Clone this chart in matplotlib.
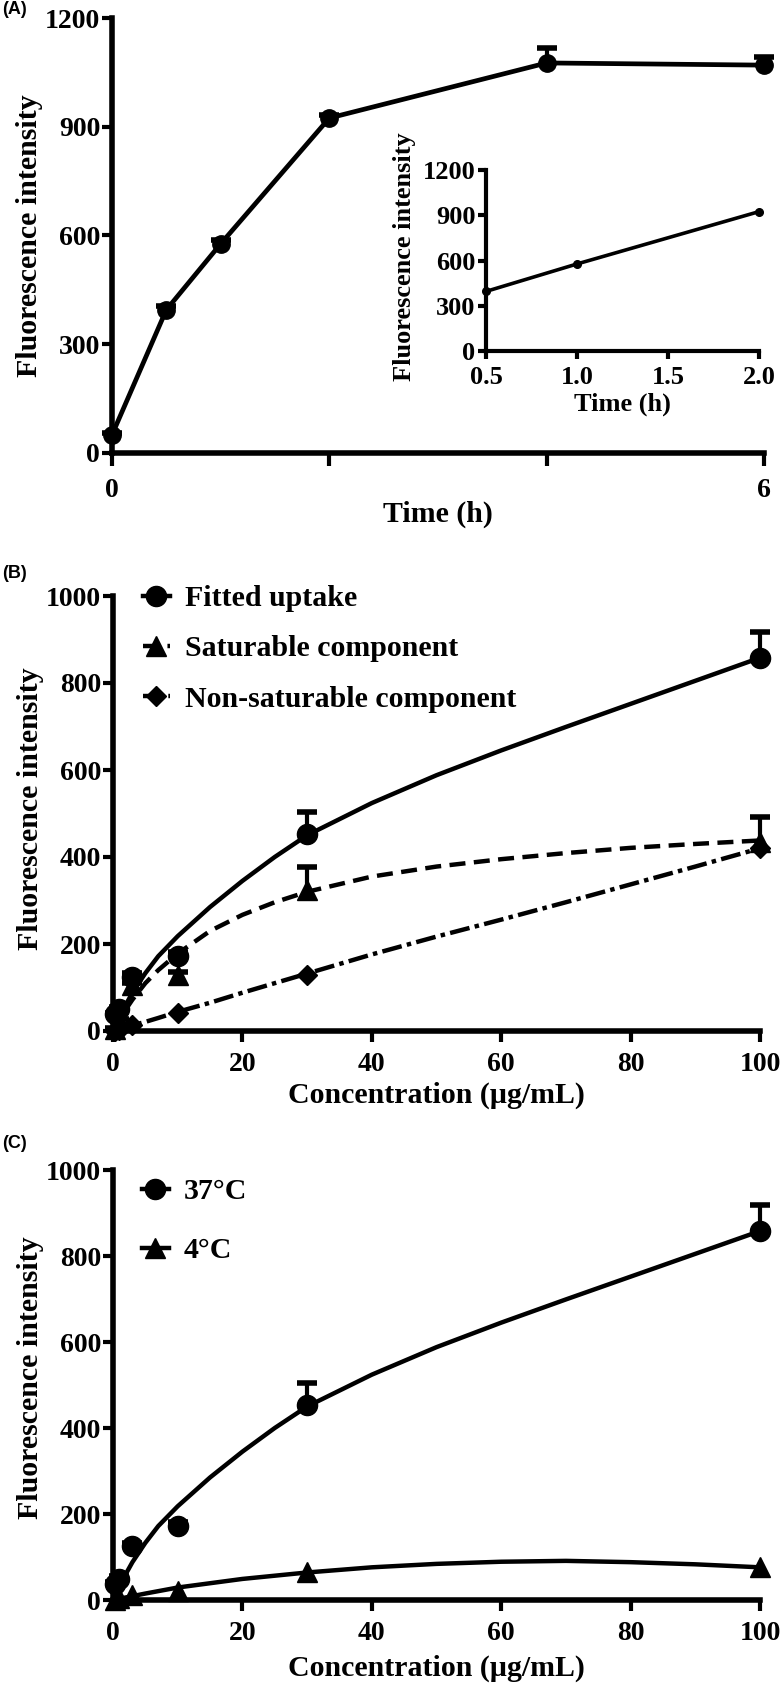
import numpy as np
import matplotlib.pyplot as plt
from matplotlib.lines import Line2D

plt.rcParams['font.family'] = ['Liberation Serif', 'DejaVu Serif']
plt.rcParams['font.weight'] = 'bold'

# (A) time course
time_h = [0, 0.5, 1, 2, 4, 6]
fi_time = [50, 395, 577, 924, 1076, 1070]
fi_time_err = [5, 10, 10, 8, 41, 23]

# (B)/(C) measured points
conc = [0.3, 1, 3, 10, 30, 100]
uptake = [38, 50, 125, 172, 454, 858]
uptake_err = [4, 5, 8, 10, 50, 60]
saturable = [4, 25, 105, 128, 325, 435]
saturable_err = [2, 3, 5, 8, 53, 58]
nonsaturable = [1, 3, 14, 42, 128, 420]
cold = [0, 4, 12, 20, 64, 76]

# fitted curves
fit_x = [0, 1, 2, 3, 5, 7, 10, 15, 20, 25, 30, 40, 50, 60, 70, 80, 90, 100]
uptake_fit = [0, 32, 61, 88, 133, 172, 218, 285, 345, 400, 450, 524, 588, 645, 699, 752, 805, 858]
saturable_fit = [0, 27, 50, 72, 110, 140, 178, 230, 267, 296, 320, 355, 378, 395, 409, 421, 430, 438]
nonsaturable_fit = [0, 4, 8, 13, 21, 30, 44, 65, 88, 110, 132, 176, 217, 256, 296, 337, 378, 420]
cold_fit_x = [0, 5, 10, 20, 30, 40, 50, 60, 70, 80, 90, 100]
cold_fit = [0, 15, 29, 49, 64, 76, 84, 89, 91, 88, 83, 76]

W, H = 781, 1684
fig = plt.figure(figsize=(W / 100, H / 100), dpi=100)


def box(l, t, r, b):
    return [l / W, 1 - b / H, (r - l) / W, (b - t) / H]


def style(ax, lw=4, tick_fs=20, xpad=7):
    for s in ['top', 'right']:
        ax.spines[s].set_visible(False)
    for s in ['left', 'bottom']:
        ax.spines[s].set_linewidth(lw)
        ax.spines[s].set_capstyle('projecting')
    ax.tick_params(axis='y', direction='out', length=7, width=3, pad=1.5, labelsize=tick_fs)
    ax.tick_params(axis='x', direction='out', length=8, width=3, pad=xpad, labelsize=tick_fs)
    for lab in ax.get_xticklabels() + ax.get_yticklabels():
        lab.set_fontweight('bold')


def up_err(ax, x, y, e, cap=14):
    # only the upper half of the error bar, like the original
    top = np.array(y) + np.array(e)
    ax.vlines(x, y, top, color='k', lw=3, zorder=3, clip_on=False)
    ax.plot(x, top, ls='none', marker='_', ms=cap, mew=4, color='k', zorder=3, clip_on=False)


dash = (0, (3.6, 1.9))
dashdot = (0, (4.5, 1.2, 1.0, 1.2))
LBL = 21.5

# ---------- (A)
axA = fig.add_axes(box(112, 18, 764, 453))
up_err(axA, time_h, fi_time, fi_time_err)
axA.plot(time_h, fi_time, '-o', color='k', lw=3.4, ms=12.5, zorder=4, clip_on=False)
axA.set_xlim(0, 6)
axA.set_ylim(0, 1200)
axA.set_xticks([0, 2, 4, 6])
axA.set_xticklabels(['0', '', '', '6'])
axA.set_yticks([0, 300, 600, 900, 1200])
style(axA, xpad=9)
axA.tick_params(axis='x', length=9)
axA.set_xlabel('Time (h)', fontsize=LBL, fontweight='bold', va='center')
axA.xaxis.set_label_coords(0.5, -0.142)
axA.set_ylabel('Fluorescence intensity', fontsize=LBL, fontweight='bold', va='center')
axA.yaxis.set_label_coords(-0.126, 0.5)

# inset
axI = fig.add_axes(box(486, 170, 759, 351))
axI.plot(time_h[1:4], fi_time[1:4], '-o', color='k', lw=2.6, ms=5.5, clip_on=False)
axI.set_xlim(0.5, 2.0)
axI.set_ylim(0, 1200)
axI.set_xticks([0.5, 1.0, 1.5, 2.0])
axI.set_xticklabels(['0.5', '1.0', '1.5', '2.0'])
axI.set_yticks([0, 300, 600, 900, 1200])
style(axI, lw=3, tick_fs=19, xpad=4.5)
axI.tick_params(axis='x', length=6)
axI.tick_params(axis='y', length=6)
axI.set_xlabel('Time (h)', fontsize=19, fontweight='bold', va='center')
axI.xaxis.set_label_coords(0.5, -0.295)
axI.set_ylabel('Fluorescence intensity', fontsize=19, fontweight='bold', va='center')
axI.yaxis.set_label_coords(-0.30, 0.52)

# ---------- (B)
axB = fig.add_axes(box(113, 596, 760, 1031))
axB.plot(fit_x, uptake_fit, '-', color='k', lw=3.2, zorder=2)
axB.plot(fit_x, saturable_fit, linestyle=dash, color='k', lw=3.2, zorder=2)
axB.plot(fit_x, nonsaturable_fit, linestyle=dashdot, color='k', lw=3.2, zorder=2)
up_err(axB, conc, uptake, uptake_err)
up_err(axB, conc, saturable, saturable_err)
axB.plot(conc, uptake, 'o', color='k', ms=14.5, ls='none', zorder=4, clip_on=False)
axB.plot(conc, saturable, '^', color='k', ms=15, ls='none', zorder=4, clip_on=False)
axB.plot(conc, nonsaturable, 'D', color='k', ms=10.5, ls='none', zorder=4, clip_on=False)
axB.set_xlim(0, 100)
axB.set_ylim(0, 1000)
axB.set_xticks([0, 20, 40, 60, 80, 100])
axB.set_yticks([0, 200, 400, 600, 800, 1000])
style(axB)
axB.set_xlabel('Concentration (\u00b5g/mL)', fontsize=LBL, fontweight='bold', va='center')
axB.xaxis.set_label_coords(0.5, -0.147)
axB.set_ylabel('Fluorescence intensity', fontsize=LBL, fontweight='bold', va='center')
axB.yaxis.set_label_coords(-0.128, 0.51)

hB = [Line2D([], [], color='k', marker='o', ms=14.5, lw=3.2, ls='-'),
      Line2D([], [], color='k', marker='^', ms=15, lw=3.2, ls=dash),
      Line2D([], [], color='k', marker='D', ms=10.5, lw=3.2, ls=dashdot)]
fig.legend(hB, ['Fitted uptake', 'Saturable component', 'Non-saturable component'],
           loc='upper left', bbox_to_anchor=(143 / W, 1 - 585 / H), frameon=False,
           prop={'size': LBL, 'weight': 'bold'}, handlelength=0.9, handletextpad=0.5,
           labelspacing=0.78, borderpad=0, borderaxespad=0)

# ---------- (C)
axC = fig.add_axes(box(113, 1170, 760, 1600))
axC.plot(fit_x, uptake_fit, '-', color='k', lw=3.2, zorder=2)
axC.plot(cold_fit_x, cold_fit, '-', color='k', lw=3.2, zorder=2)
up_err(axC, conc, uptake, uptake_err)
axC.plot(conc, uptake, 'o', color='k', ms=14.5, ls='none', zorder=4, clip_on=False)
axC.plot(conc, cold, '^', color='k', ms=15, ls='none', zorder=4, clip_on=False)
axC.set_xlim(0, 100)
axC.set_ylim(0, 1000)
axC.set_xticks([0, 20, 40, 60, 80, 100])
axC.set_yticks([0, 200, 400, 600, 800, 1000])
style(axC)
axC.set_xlabel('Concentration (\u00b5g/mL)', fontsize=LBL, fontweight='bold', va='center')
axC.xaxis.set_label_coords(0.5, -0.158)
axC.set_ylabel('Fluorescence intensity', fontsize=LBL, fontweight='bold', va='center')
axC.yaxis.set_label_coords(-0.128, 0.516)

hC = [Line2D([], [], color='k', marker='o', ms=14.5, lw=3.2, ls='-'),
      Line2D([], [], color='k', marker='^', ms=15, lw=3.2, ls='-')]
fig.legend(hC, ['37\u00b0C', '4\u00b0C'],
           loc='upper left', bbox_to_anchor=(142 / W, 1 - 1178 / H), frameon=False,
           prop={'size': LBL, 'weight': 'bold'}, handlelength=0.9, handletextpad=0.5,
           labelspacing=1.07, borderpad=0, borderaxespad=0)

# panel letters
for txt, y in [('(A)', 9), ('(B)', 574), ('(C)', 1143)]:
    fig.text(2 / W, 1 - y / H, txt, fontsize=13, fontweight='bold', va='center', ha='left',
             family=['Liberation Sans', 'DejaVu Sans'])

fig.savefig('out.png', dpi=100)
